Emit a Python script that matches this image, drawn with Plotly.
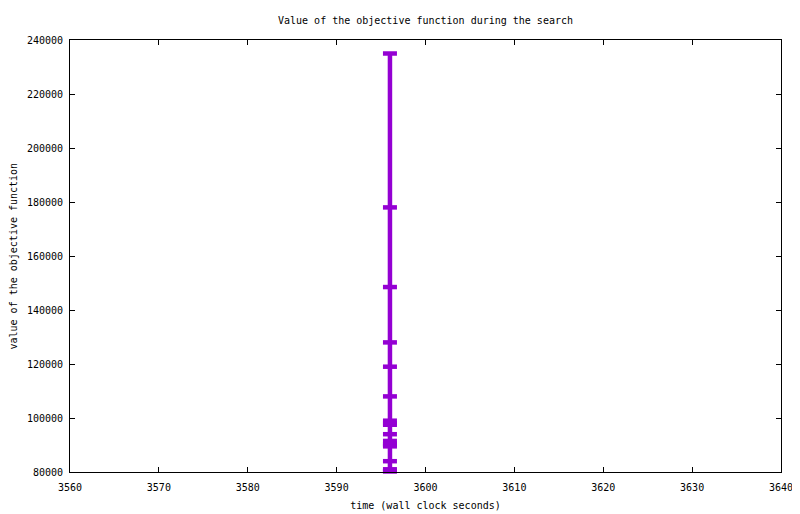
import plotly.graph_objects as go

# objective values (all at the same wall clock time)
times = [3596] * 18
values = [235000, 178000, 148500, 128000, 119000, 108000, 99000, 98000, 97500,
          94000, 91500, 90500, 90000, 89500, 84000, 81000, 80500, 80200]

x_ticks = [3560, 3570, 3580, 3590, 3600, 3610, 3620, 3630, 3640]
y_ticks = [80000, 100000, 120000, 140000, 160000, 180000, 200000, 220000, 240000]

mono = "DejaVu Sans Mono"
purple = "#9400D3"

fig = go.Figure()
fig.add_trace(go.Scatter(
    x=times,
    y=values,
    mode='lines+markers',
    line=dict(color=purple, width=4.5),
    marker=dict(symbol='line-ew', size=10, line=dict(color=purple, width=4.5)),
    cliponaxis=False,
    showlegend=False
))

axis_common = dict(
    showgrid=False,
    zeroline=False,
    showline=True,
    linecolor='black',
    linewidth=1,
    mirror='ticks',
    ticks='inside',
    ticklen=5,
    tickcolor='black',
    automargin=False,
    tickfont=dict(family=mono, size=10, color='black'),
)

# the page body adds an 8px offset, margins are set to compensate
fig.update_layout(
    width=800, height=514,
    margin=dict(l=62, r=27, t=32, b=50),
    paper_bgcolor='white',
    plot_bgcolor='white',
    font=dict(family=mono, size=10, color='black'),
    title=dict(text="Value of the objective function during the search",
               x=0.5, xanchor='center', xref='paper',
               yref='container', y=1 - 12 / 514, yanchor='middle',
               font=dict(family=mono, size=10, color='black')),
    xaxis=dict(axis_common, range=[3560, 3640], tickvals=x_ticks,
               ticktext=[str(t) for t in x_ticks], ticklabelstandoff=6,
               title=dict(text="time (wall clock seconds)", standoff=9,
                          font=dict(family=mono, size=10))),
    yaxis=dict(axis_common, range=[80000, 240000], tickvals=y_ticks,
               ticktext=[str(t) for t in y_ticks], ticklabelstandoff=4),
)

# y title as an annotation so it sits where gnuplot put it
fig.add_annotation(
    text="value of the objective function",
    xref='paper', yref='paper', x=0, y=0.5,
    xshift=-65, textangle=-90, showarrow=False,
    font=dict(family=mono, size=10, color='black')
)

fig.write_html("out.html")
